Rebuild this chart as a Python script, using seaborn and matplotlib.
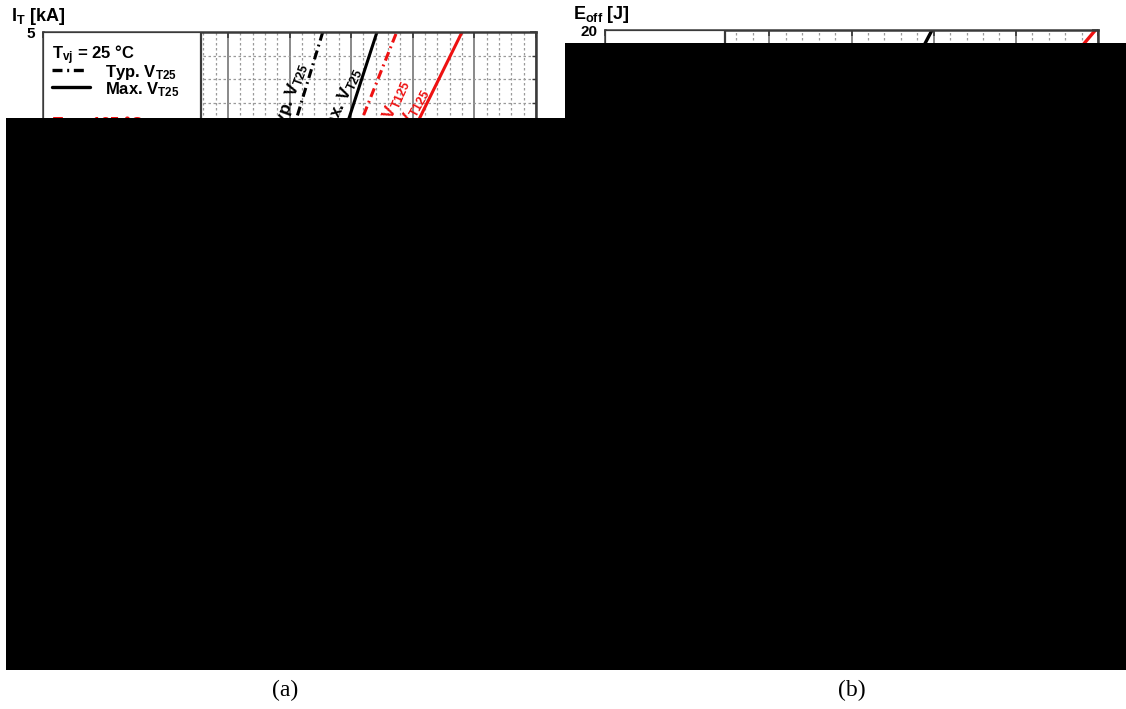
import numpy as np
import pandas as pd
import matplotlib
matplotlib.use("Agg")
import matplotlib.pyplot as plt
import seaborn as sns
from matplotlib.ticker import MultipleLocator
from matplotlib.patches import Polygon, Rectangle
from matplotlib.lines import Line2D

# ---------------- data ----------------
# (a) on-state characteristic: current I_T [kA] vs voltage V_T [V]
it_ka = [0.2, 0.5, 1.0, 2.0, 3.0, 4.0, 5.0, 5.2]
vt_typ25 = [0.74, 0.88, 1.06, 1.38, 1.69, 1.98, 2.27, 2.33]
vt_max25 = [0.98, 1.14, 1.36, 1.74, 2.08, 2.40, 2.71, 2.77]
vt_typ125 = [0.85, 1.01, 1.26, 1.70, 2.10, 2.49, 2.87, 2.95]
vt_max125 = [0.95, 1.15, 1.45, 1.97, 2.46, 2.93, 3.40, 3.49]

# (b) turn-off energy E_off [J] vs current [kA]
ioff25_ka = [0.5, 1.0, 2.0, 3.0, 4.0, 4.2]
eoff_25 = [2.3, 4.6, 9.6, 14.8, 20.1, 21.0]
ioff125_ka = [0.5, 1.0, 2.0, 3.0, 4.0, 5.0, 6.0, 6.2]
eoff_125 = [1.8, 3.5, 6.9, 10.3, 13.6, 16.8, 20.1, 20.9]

a_ylabel = r"I$_\mathbf{T}$ [kA]"
b_ylabel = r"E$_\mathbf{off}$ [J]"
captions = ["(a)", "(b)"]

# ---------------- style ----------------
sns.set_theme(style="white")
plt.rcParams["font.family"] = ["Liberation Sans", "DejaVu Sans"]
plt.rcParams["mathtext.fontset"] = "custom"
plt.rcParams["mathtext.rm"] = "Liberation Sans"
plt.rcParams["mathtext.bf"] = "Liberation Sans:bold"
plt.rcParams["mathtext.it"] = "Liberation Sans:italic"
plt.rcParams["mathtext.default"] = "rm"
plt.rcParams["text.color"] = "black"
plt.rcParams["xtick.color"] = "black"
plt.rcParams["ytick.color"] = "black"
plt.rcParams["xtick.labelcolor"] = "black"
plt.rcParams["ytick.labelcolor"] = "black"

W, H = 1126, 709
fig = plt.figure(figsize=(W / 100, H / 100), dpi=100)
fig.patch.set_facecolor("white")


def px_axes(left, right, top, bottom):
    return fig.add_axes([left / W, 1 - bottom / H, (right - left) / W, (bottom - top) / H])


RED = "#ee1111"
SPINE = "#3a3a3a"


def style_axes(ax, xmaj, xmin, ymaj, ymin):
    ax.set_axisbelow(True)
    ax.xaxis.set_major_locator(MultipleLocator(xmaj))
    ax.xaxis.set_minor_locator(MultipleLocator(xmin))
    ax.yaxis.set_major_locator(MultipleLocator(ymaj))
    ax.yaxis.set_minor_locator(MultipleLocator(ymin))
    ax.grid(which="major", color="#6a6a6a", lw=1.1, ls="-")
    ax.grid(which="minor", color="#9a9a9a", lw=0.9, ls=(0, (2, 2)))
    for s in ax.spines.values():
        s.set_color(SPINE)
        s.set_linewidth(1.8)
        s.set_visible(True)
    ax.tick_params(which="major", direction="in", length=4, width=1.2, color=SPINE,
                   top=True, right=True, labelsize=11, pad=5.5, labelcolor="black")
    ax.tick_params(axis="x", which="minor", length=0)
    ax.tick_params(axis="y", which="minor", direction="in", length=3, width=1, color=SPINE,
                   left=True, right=True)
    for lab in ax.get_xticklabels() + ax.get_yticklabels():
        lab.set_fontweight("bold")
    ax.set_xlabel("")
    ax.set_ylabel("")


# ---------------- panel (a) ----------------
axa = px_axes(43, 536, 32, 620)
dash_dot = (0, (3, 1.4, 0.6, 1.4))
sns.lineplot(x=vt_typ25, y=it_ka, ax=axa, color="black", lw=2.2, linestyle=dash_dot,
             estimator=None, sort=False)
sns.lineplot(x=vt_max25, y=it_ka, ax=axa, color="black", lw=2.2,
             estimator=None, sort=False)
sns.lineplot(x=vt_typ125, y=it_ka, ax=axa, color=RED, lw=2.2, linestyle=dash_dot,
             estimator=None, sort=False)
sns.lineplot(x=vt_max125, y=it_ka, ax=axa, color=RED, lw=2.2,
             estimator=None, sort=False)
axa.set_xlim(0, 4)
axa.set_ylim(0, 5)
style_axes(axa, 0.5, 0.1, 1, 0.2)

# curve labels along the lines
lab_kw = dict(fontsize=12.5, fontweight="bold", ha="right", va="center", rotation_mode="anchor")
axa.text(2.11, 4.73, r"Typ. V$_\mathbf{T25}$", color="black", rotation=70, **lab_kw)
axa.text(2.55, 4.685, r"Max. V$_\mathbf{T25}$", color="black", rotation=65, **lab_kw)
axa.text(2.93, 4.59, r"Typ. V$_\mathbf{T125}$", color=RED, rotation=66, **lab_kw)
axa.text(3.10, 4.515, r"Max. V$_\mathbf{T125}$", color=RED, rotation=61, **lab_kw)


def fx(px, left=43, width=493):
    return (px - left) / width


def fy(py, bottom=620, height=588):
    return (bottom - py) / height


# legend box (a)
axa.add_patch(Rectangle((0, fy(330)), fx(201), 1 - fy(330), transform=axa.transAxes,
                        facecolor="white", edgecolor=SPINE, lw=1.6, zorder=4))
axa.text(fx(52), fy(59), r"T$_\mathbf{vj}$ = 25 °C", transform=axa.transAxes,
         fontsize=12, fontweight="bold", va="baseline", zorder=5)
axa.add_line(Line2D([fx(52), fx(88)], [fy(70), fy(70)], transform=axa.transAxes,
                    color="black", lw=2.4, linestyle=dash_dot, zorder=5))
axa.text(fx(105), fy(77), r"Typ. V$_\mathbf{T25}$", transform=axa.transAxes,
         fontsize=12, fontweight="bold", va="baseline", zorder=5)
axa.add_line(Line2D([fx(52), fx(90)], [fy(87), fy(87)], transform=axa.transAxes,
                    color="black", lw=2.4, zorder=5))
axa.text(fx(105), fy(94), r"Max. V$_\mathbf{T25}$", transform=axa.transAxes,
         fontsize=12, fontweight="bold", va="baseline", zorder=5)
axa.text(fx(52), fy(130), r"T$_\mathbf{vj}$ = 125 °C", transform=axa.transAxes,
         fontsize=12, fontweight="bold", va="baseline", color=RED, zorder=5)

fig.text(11 / W, 1 - 21 / H, a_ylabel, fontsize=13, fontweight="bold", va="baseline")

# ---------------- panel (b) ----------------
axb = px_axes(605, 1098, 30, 620)
sns.lineplot(x=ioff25_ka, y=eoff_25, ax=axb, color="black", lw=2.4,
             estimator=None, sort=False)
sns.lineplot(x=ioff125_ka, y=eoff_125, ax=axb, color=RED, lw=2.4,
             estimator=None, sort=False)
axb.set_xlim(0, 6)
axb.set_ylim(0, 20)
style_axes(axb, 1, 0.2, 5, 1)
axb.add_patch(Rectangle((0, 0.6), (725 - 605) / 493, 0.4, transform=axb.transAxes,
                        facecolor="white", edgecolor=SPINE, lw=1.6, zorder=4))
fig.text(573 / W, 1 - 19 / H, b_ylabel, fontsize=13, fontweight="bold", va="baseline")

# ---------------- black occluding region of the source picture ----------------
verts = [(6, 118), (565, 118), (565, 43), (1126, 43), (1126, 670), (6, 670)]
fig.add_artist(Polygon([(x / W, 1 - y / H) for x, y in verts], closed=True,
                       transform=fig.transFigure, facecolor="black", edgecolor="none",
                       zorder=20))

# captions
fig.text(285 / W, 1 - 690 / H, captions[0], fontsize=17, family="Liberation Serif",
         ha="center", va="center")
fig.text(852 / W, 1 - 690 / H, captions[1], fontsize=17, family="Liberation Serif",
         ha="center", va="center")

fig.savefig("out.png", dpi=100, facecolor="white")
